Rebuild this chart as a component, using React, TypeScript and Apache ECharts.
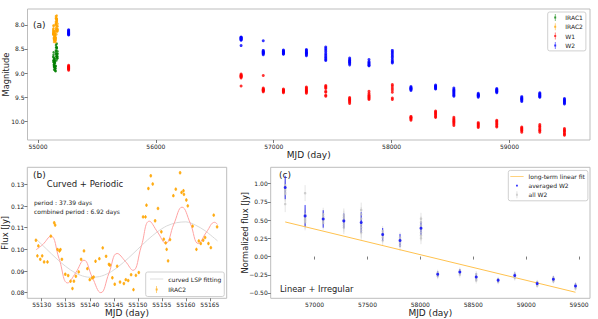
import React, { useEffect, useRef } from "react";
import * as echarts from "echarts";

const FONT = "DejaVu Sans";

// ---------------- Panel (a): light curves (magnitudes) ----------------
const wiseEpochs = [55260, 56723, 56911, 57082, 57277, 57441, 57644, 57808, 58006, 58164, 58373, 58528, 58735, 58892, 59104, 59257, 59466];
const w2Mags = [
  [8.10, 8.12, 8.13, 8.15, 8.16, 8.17, 8.18, 8.19, 8.20, 8.21],
  [8.25, 8.26, 8.27, 8.28, 8.29, 8.30, 8.31, 8.32, 8.43],
  [8.33, 8.53, 8.55, 8.56, 8.57, 8.58, 8.59, 8.60, 8.62],
  [8.52, 8.54, 8.55, 8.56, 8.57, 8.58, 8.59, 8.60, 8.61],
  [8.51, 8.53, 8.55, 8.57, 8.58, 8.59, 8.60, 8.62, 8.64],
  [8.46, 8.49, 8.52, 8.56, 8.60, 8.63, 8.66, 8.69, 8.72, 8.74],
  [8.69, 8.72, 8.74, 8.75, 8.77, 8.78, 8.80, 8.83],
  [8.72, 8.76, 8.78, 8.80, 8.82, 8.84, 8.85],
  [8.53, 8.56, 8.59, 8.62, 8.65, 8.68, 8.72, 8.75, 8.77, 8.79],
  [9.28, 9.30, 9.31, 9.32, 9.33, 9.34, 9.36],
  [9.25, 9.27, 9.28, 9.29, 9.30, 9.32, 9.33],
  [9.31, 9.34, 9.36, 9.38, 9.40, 9.42, 9.44, 9.46, 9.48],
  [9.42, 9.44, 9.45, 9.46, 9.47, 9.48, 9.50],
  [9.32, 9.34, 9.35, 9.37, 9.38, 9.39, 9.41],
  [9.49, 9.51, 9.53, 9.54, 9.55, 9.57, 9.59],
  [9.41, 9.43, 9.44, 9.46, 9.47, 9.49, 9.50],
  [9.53, 9.55, 9.57, 9.58, 9.60, 9.62, 9.64],
];
const w1Mags = [
  [8.84, 8.86, 8.87, 8.88, 8.89, 8.90, 8.91, 8.92, 8.94],
  [9.02, 9.04, 9.05, 9.06, 9.07, 9.08, 9.10, 9.27],
  [9.05, 9.31, 9.33, 9.34, 9.35, 9.36, 9.37, 9.39],
  [9.33, 9.35, 9.36, 9.37, 9.38, 9.39, 9.41],
  [9.29, 9.31, 9.33, 9.35, 9.37, 9.38, 9.40, 9.42],
  [9.26, 9.28, 9.30, 9.32, 9.38, 9.40, 9.46, 9.48],
  [9.51, 9.53, 9.55, 9.56, 9.58, 9.60, 9.63],
  [9.38, 9.42, 9.45, 9.47, 9.49, 9.51, 9.53, 9.55],
  [9.24, 9.27, 9.31, 9.35, 9.40, 9.52, 9.55],
  [9.90, 9.92, 9.93, 9.94, 9.96, 9.98],
  [9.79, 9.81, 9.83, 9.85, 9.87, 9.90, 9.92],
  [9.92, 9.95, 9.97, 9.99, 10.01, 10.03, 10.06, 10.09],
  [10.03, 10.05, 10.07, 10.09, 10.11, 10.13],
  [9.98, 10.00, 10.02, 10.05, 10.07, 10.10, 10.12],
  [10.12, 10.14, 10.16, 10.18, 10.20, 10.23],
  [10.07, 10.10, 10.12, 10.15, 10.18, 10.20, 10.23],
  [10.15, 10.18, 10.20, 10.22, 10.25, 10.27, 10.29],
];
const irac1Mjd = [55128.8, 55129.7, 55130.5, 55131.9, 55132.6, 55133.7, 55134.2, 55134.9, 55135.5, 55136.0, 55136.7, 55137.1, 55137.7, 55138.2, 55138.8, 55139.5, 55140.0, 55140.8, 55141.2, 55142.0, 55142.7, 55143.4, 55144.2, 55144.7, 55145.2, 55146.3, 55147.1, 55148.0, 55148.6, 55149.1, 55150.2, 55151.1, 55151.8, 55152.7, 55153.1, 55153.6, 55154.2, 55155.4, 55156.3, 55156.7, 55157.9, 55158.8, 55159.5, 55160.1, 55161.4, 55162.2, 55163.1, 55164.0, 55165.2, 55165.8, 55166.5];
const irac1Mag = [8.66, 8.74, 8.77, 8.62, 8.57, 8.68, 8.73, 8.82, 8.84, 8.87, 8.93, 8.86, 8.83, 8.77, 8.71, 8.80, 8.89, 8.86, 8.78, 8.76, 8.70, 8.74, 8.79, 8.87, 8.92, 8.90, 8.95, 8.90, 8.86, 8.96, 8.85, 8.59, 8.53, 8.42, 8.47, 8.61, 8.55, 8.66, 8.74, 8.65, 8.46, 8.39, 8.47, 8.49, 8.60, 8.70, 8.66, 8.65, 8.69, 8.55, 8.60];

// IRAC2 photometry (flux in Jy) -- shown in (b), converted to magnitudes in (a)
const irac2Mjd = [55128.8, 55129.1, 55129.3, 55129.7, 55130.1, 55130.5, 55131.2, 55131.9, 55132.6, 55132.8, 55133.3, 55133.7, 55133.9, 55134.2, 55134.9, 55135.5, 55136.0, 55136.4, 55136.7, 55137.1, 55137.7, 55138.2, 55138.8, 55139.5, 55140.0, 55140.5, 55140.8, 55141.2, 55142.0, 55142.7, 55143.4, 55144.0, 55144.2, 55144.7, 55145.2, 55145.7, 55146.3, 55147.1, 55147.5, 55148.0, 55148.6, 55149.1, 55149.6, 55150.2, 55151.1, 55151.6, 55151.8, 55152.2, 55152.7, 55153.1, 55153.6, 55154.2, 55154.9, 55155.4, 55155.8, 55156.0, 55156.3, 55156.7, 55157.4, 55157.9, 55158.8, 55159.1, 55159.5, 55159.6, 55160.1, 55160.4, 55161.4, 55162.2, 55162.7, 55163.1, 55163.6, 55164.0, 55164.7, 55165.2, 55165.8, 55166.5];
const irac2Flux = [0.1042, 0.0970, 0.1016, 0.0954, 0.0970, 0.0942, 0.0942, 0.1061, 0.1123, 0.1112, 0.0999, 0.0993, 0.0999, 0.0954, 0.0885, 0.0879, 0.0853, 0.0819, 0.0853, 0.0876, 0.0896, 0.0954, 0.0993, 0.0911, 0.0860, 0.0868, 0.0872, 0.0945, 0.0957, 0.1007, 0.0968, 0.0931, 0.0927, 0.0869, 0.0839, 0.0922, 0.0849, 0.0842, 0.0860, 0.0856, 0.0883, 0.0814, 0.0880, 0.0893, 0.1150, 0.1150, 0.1204, 0.1281, 0.1340, 0.1302, 0.1132, 0.1189, 0.1081, 0.1047, 0.1030, 0.1000, 0.0947, 0.1045, 0.1248, 0.1278, 0.1354, 0.1263, 0.1271, 0.1254, 0.1228, 0.1201, 0.1107, 0.1000, 0.1039, 0.1027, 0.1042, 0.1055, 0.1027, 0.1008, 0.1158, 0.1104];
const irac2FluxErr = 0.0008;
const IRAC2_ZERO_POINT_JY = 179.7;

// ---------------- Panel (b): periodic fits ----------------
const lspMjd = [55128.8, 55130, 55132, 55134, 55136, 55138, 55140, 55142, 55144, 55146, 55148, 55150, 55152, 55154, 55156, 55158, 55160, 55162, 55164, 55166.6];
const lspFlux = [0.1048, 0.1023, 0.0980, 0.0939, 0.0905, 0.0881, 0.0871, 0.0874, 0.0891, 0.0921, 0.0959, 0.1001, 0.1043, 0.1080, 0.1108, 0.1123, 0.1127, 0.1112, 0.1086, 0.1039];
const combMjd = [55128.8, 55130.2, 55131.9, 55133.6, 55135.4, 55137.1, 55138.8, 55140.5, 55142.3, 55144.0, 55145.7, 55147.4, 55149.0, 55150.7, 55152.4, 55154.1, 55155.8, 55157.5, 55159.2, 55160.9, 55162.6, 55164.3, 55166.0, 55166.6];
const combFlux = [0.0998, 0.1022, 0.1061, 0.0958, 0.0845, 0.0893, 0.0950, 0.0872, 0.0800, 0.0890, 0.0981, 0.0945, 0.0903, 0.1012, 0.1130, 0.1080, 0.1028, 0.1117, 0.1195, 0.1122, 0.1027, 0.1080, 0.1125, 0.1115];

// ---------------- Panel (c): normalized W2 flux ----------------
const neoEpochs = [56723, 56911, 57082, 57277, 57441, 57644, 57808, 58006, 58164, 58373, 58528, 58735, 58892, 59104, 59257, 59466];
const avgW2 = [0.948, 0.558, 0.516, 0.489, 0.467, 0.302, 0.220, 0.389, -0.243, -0.211, -0.280, -0.326, -0.261, -0.371, -0.312, -0.404];
const avgW2Err = [0.16, 0.15, 0.12, 0.10, 0.14, 0.09, 0.09, 0.09, 0.04, 0.04, 0.05, 0.03, 0.04, 0.03, 0.04, 0.04];
const allW2 = [
  [0.98, 0.95, 0.93, 0.91, 0.88, 0.86, 0.72],
  [0.87, 0.58, 0.55, 0.53, 0.51, 0.49, 0.47],
  [0.58, 0.55, 0.53, 0.51, 0.49, 0.46],
  [0.57, 0.54, 0.51, 0.49, 0.46, 0.43, 0.40],
  [0.64, 0.58, 0.52, 0.47, 0.44, 0.40, 0.36, 0.33],
  [0.35, 0.32, 0.29, 0.26, 0.22],
  [0.26, 0.23, 0.21, 0.19, 0.15],
  [0.52, 0.47, 0.43, 0.40, 0.37, 0.33, 0.29, 0.25],
  [-0.22, -0.24, -0.25, -0.27],
  [-0.19, -0.21, -0.23, -0.25],
  [-0.24, -0.27, -0.29, -0.31, -0.33],
  [-0.31, -0.33, -0.35],
  [-0.24, -0.26, -0.28, -0.29],
  [-0.35, -0.37, -0.39, -0.40],
  [-0.29, -0.31, -0.33, -0.34],
  [-0.38, -0.40, -0.42, -0.44],
];
const allW2Err = [0.11, 0.11, 0.09, 0.09, 0.10, 0.07, 0.07, 0.08, 0.04, 0.04, 0.04, 0.03, 0.04, 0.03, 0.03, 0.03];
const fitMjd = [56723, 59466];
const fitFlux = [0.475, -0.49];

// ---------------- Ticks ----------------
const aTicksX = [55000, 56000, 57000, 58000, 59000];
const aTicksY = [8.0, 8.5, 9.0, 9.5, 10.0];
const bTicksX = [55130, 55135, 55140, 55145, 55150, 55155, 55160, 55165];
const bTicksY = [0.08, 0.09, 0.10, 0.11, 0.12, 0.13];
const cTicksX = [57000, 57500, 58000, 58500, 59000, 59500];
const cTicksY = [-0.5, -0.25, 0, 0.25, 0.5, 0.75, 1.0];

const ERR_ICON = "path://M0,0M10,10M4.55,0h0.9v10h-0.9zM3.6,3.6h2.8v2.8h-2.8z";
const DOT_ICON = "path://M0,0M10,10M3.7,3.7h2.6v2.6h-2.6z";
const LINE_ICON = "path://M0,0M20,10M0,4.45h20v1.1h-20z";

function errorSeries(name: string, gi: number, data: number[][], color: string, width: number, opacity: number) {
  return {
    type: "custom",
    name,
    xAxisIndex: gi,
    yAxisIndex: gi,
    silent: true,
    z: 1,
    encode: { x: 0, y: [1, 2] },
    data,
    renderItem: (_p: any, api: any) => {
      const a = api.coord([api.value(0), api.value(1)]);
      const b = api.coord([api.value(0), api.value(2)]);
      return {
        type: "line",
        shape: { x1: a[0], y1: a[1], x2: b[0], y2: b[1] },
        style: { stroke: color, lineWidth: width, opacity },
      };
    },
  };
}

function flatten(epochs: number[], groups: number[][]) {
  const out: number[][] = [];
  groups.forEach((g, i) => g.forEach((v) => out.push([epochs[i], v])));
  return out;
}

const minus = (v: number, d: number) => (v < 0 ? "\u2212" : "") + Math.abs(v).toFixed(d);

function makeAxis(min: number, max: number, ticks: number[], fmt: (v: number) => string, extra: any = {}) {
  return {
    type: "value",
    min,
    max,
    axisLine: { show: false },
    axisTick: { show: true, length: 3, customValues: ticks, lineStyle: { color: "#444", width: 0.7 } },
    axisLabel: { fontSize: 6, color: "#222", fontFamily: FONT, margin: 3, customValues: ticks, formatter: fmt },
    splitLine: { show: false },
    ...extra,
  };
}

const legendBase = {
  orient: "vertical",
  selectedMode: false,
  backgroundColor: "rgba(255,255,255,0.85)",
  borderColor: "#d0d0d0",
  borderWidth: 1,
  borderRadius: 2,
  textStyle: { fontSize: 6, fontFamily: FONT, color: "#222", lineHeight: 7 },
  itemHeight: 7,
};

function txt(text: string, x: number, y: number, size: number, extra: any = {}, align = "left") {
  return {
    type: "text",
    x,
    y,
    silent: true,
    style: { text, fontSize: size, fontFamily: FONT, fill: "#222", align, verticalAlign: "middle" },
    ...extra,
  };
}

export default function App() {
  const ref = useRef<HTMLDivElement>(null);
  useEffect(() => {
    if (!ref.current) return;
    const chart = echarts.init(ref.current, undefined, { renderer: "svg" });

    const irac2Mag = irac2Flux.map((f) => -2.5 * Math.log10(f / IRAC2_ZERO_POINT_JY));

    const option: any = {
      animation: false,
      grid: [
        { left: 27.5, top: 9, width: 562.5, height: 131, show: true, borderColor: "#bdbdbd", borderWidth: 1 },
        { left: 27.3, top: 167.3, width: 199.4, height: 131, show: true, borderColor: "#bdbdbd", borderWidth: 1 },
        { left: 270.7, top: 167.3, width: 319.3, height: 131, show: true, borderColor: "#bdbdbd", borderWidth: 1 },
      ],
      xAxis: [
        makeAxis(54911, 59683, aTicksX, (v) => String(v), { gridIndex: 0 }),
        makeAxis(55127, 55168.5, bTicksX, (v) => String(v), { gridIndex: 1 }),
        makeAxis(56586, 59603, cTicksX, (v) => String(v), { gridIndex: 2 }),
      ],
      yAxis: [
        makeAxis(7.67, 10.39, aTicksY, (v) => v.toFixed(1), { gridIndex: 0, inverse: true }),
        makeAxis(0.0774, 0.1379, bTicksY, (v) => v.toFixed(2), { gridIndex: 1 }),
        makeAxis(-0.573, 1.225, cTicksY, (v) => minus(v, 2), { gridIndex: 2 }),
      ],
      legend: [
        {
          ...legendBase,
          left: 547.7,
          top: 12,
          padding: [2, 3, 2, 4],
          itemGap: 2.3,
          itemWidth: 10,
          data: [
            { name: "IRAC1", icon: ERR_ICON },
            { name: "IRAC2", icon: ERR_ICON },
            { name: "W1", icon: ERR_ICON },
            { name: "W2", icon: ERR_ICON },
          ],
        },
        {
          ...legendBase,
          left: 145.7,
          top: 272,
          padding: [3.5, 3, 3.5, 4.3],
          itemGap: 3.5,
          itemWidth: 13.3,
          data: [{ name: "curved LSP fitting", icon: LINE_ICON }, { name: "IRAC2", icon: ERR_ICON }],
        },
        {
          ...legendBase,
          left: 508.3,
          top: 170.4,
          padding: [2.5, 3, 2.5, 2],
          itemGap: 2.2,
          itemWidth: 13.3,
          data: [
            { name: "long-term linear fit", icon: LINE_ICON },
            { name: "averaged W2", icon: DOT_ICON },
            { name: "all W2", icon: ERR_ICON },
          ],
        },
      ],
      series: [
        // ---- (a)
        { type: "scatter", name: "IRAC1", xAxisIndex: 0, yAxisIndex: 0, symbolSize: 2.5, itemStyle: { color: "#008000" },
          data: irac1Mjd.map((m, i) => [m, irac1Mag[i]]) },
        { type: "scatter", name: "IRAC2", xAxisIndex: 0, yAxisIndex: 0, symbolSize: 2.5, itemStyle: { color: "#ffa500" },
          data: irac2Mjd.map((m, i) => [m, irac2Mag[i]]) },
        { type: "scatter", name: "W1", xAxisIndex: 0, yAxisIndex: 0, symbolSize: 3, itemStyle: { color: "#ff0000" },
          data: flatten(wiseEpochs, w1Mags) },
        { type: "scatter", name: "W2", xAxisIndex: 0, yAxisIndex: 0, symbolSize: 3, itemStyle: { color: "#0000ff" },
          data: flatten(wiseEpochs, w2Mags) },
        // ---- (b)
        { type: "line", name: "curved LSP fitting", xAxisIndex: 1, yAxisIndex: 1, symbol: "none", smooth: 0.3,
          lineStyle: { color: "#d9d9d9", width: 1 }, itemStyle: { color: "#d4d4d4" }, z: 2,
          data: lspMjd.map((m, i) => [m, lspFlux[i]]) },
        { type: "line", name: "combined fit", xAxisIndex: 1, yAxisIndex: 1, symbol: "none", smooth: 0.45,
          lineStyle: { color: "#ffa3a3", width: 1 }, itemStyle: { color: "#ffa3a3" }, z: 2,
          data: combMjd.map((m, i) => [m, combFlux[i]]) },
        errorSeries("IRAC2 err", 1,
          irac2Mjd.map((m, i) => [m, irac2Flux[i] - irac2FluxErr, irac2Flux[i] + irac2FluxErr]), "#ffa500", 0.8, 1),
        { type: "scatter", name: "IRAC2", xAxisIndex: 1, yAxisIndex: 1, symbolSize: 2.8, itemStyle: { color: "#ffa500" }, z: 3,
          data: irac2Mjd.map((m, i) => [m, irac2Flux[i]]) },
        // ---- (c)
        { type: "line", name: "long-term linear fit", xAxisIndex: 2, yAxisIndex: 2, symbol: "none",
          lineStyle: { color: "#ffc24f", width: 1 }, itemStyle: { color: "#ffc24f" }, z: 2,
          data: fitMjd.map((m, i) => [m, fitFlux[i]]) },
        errorSeries("all W2 err", 2,
          flatten(neoEpochs, allW2).map(([m, v]) => {
            const e = allW2Err[neoEpochs.indexOf(m)];
            return [m, v - e, v + e];
          }), "#cfcfcf", 1, 0.55),
        { type: "scatter", name: "all W2", xAxisIndex: 2, yAxisIndex: 2, symbolSize: 2.5, itemStyle: { color: "#c4c4c4" }, z: 3,
          data: flatten(neoEpochs, allW2) },
        errorSeries("averaged W2 err", 2,
          neoEpochs.map((m, i) => [m, avgW2[i] - avgW2Err[i], avgW2[i] + avgW2Err[i]]), "#0000ff", 1, 0.75),
        { type: "scatter", name: "averaged W2", xAxisIndex: 2, yAxisIndex: 2, symbolSize: 3, itemStyle: { color: "#0000ff" }, z: 4,
          data: neoEpochs.map((m, i) => [m, avgW2[i]]) },
      ],
      graphic: [
        txt("(a)", 33, 24.5, 9),
        txt("(b)", 33, 175, 9),
        txt("(c)", 279, 175, 9),
        txt("Curved + Periodic", 46.7, 183.5, 8.5),
        txt("period : 37.39 days", 34, 202.5, 6),
        txt("combined period : 6.92 days", 34, 211.2, 6),
        txt("Linear + Irregular", 280, 289, 8.3),
        txt("MJD (day)", 308.75, 154.5, 9, {}, "center"),
        txt("MJD (day)", 127, 312.5, 9, {}, "center"),
        txt("MJD (day)", 430.3, 312.5, 9, {}, "center"),
        txt("Magnitude", 5.5, 74.5, 8.3, { rotation: Math.PI / 2 }, "center"),
        txt("Flux [Jy]", 4.5, 232.8, 8.3, { rotation: Math.PI / 2 }, "center"),
        txt("Normalized flux [Jy]", 244.5, 232.7, 8.3, { rotation: Math.PI / 2 }, "center"),
      ],
    };
    chart.setOption(option);
    return () => chart.dispose();
  }, []);
  return <div ref={ref} style={{ position: "fixed", left: 0, top: 0, width: 598, height: 319, background: "#fff" }} />;
}
